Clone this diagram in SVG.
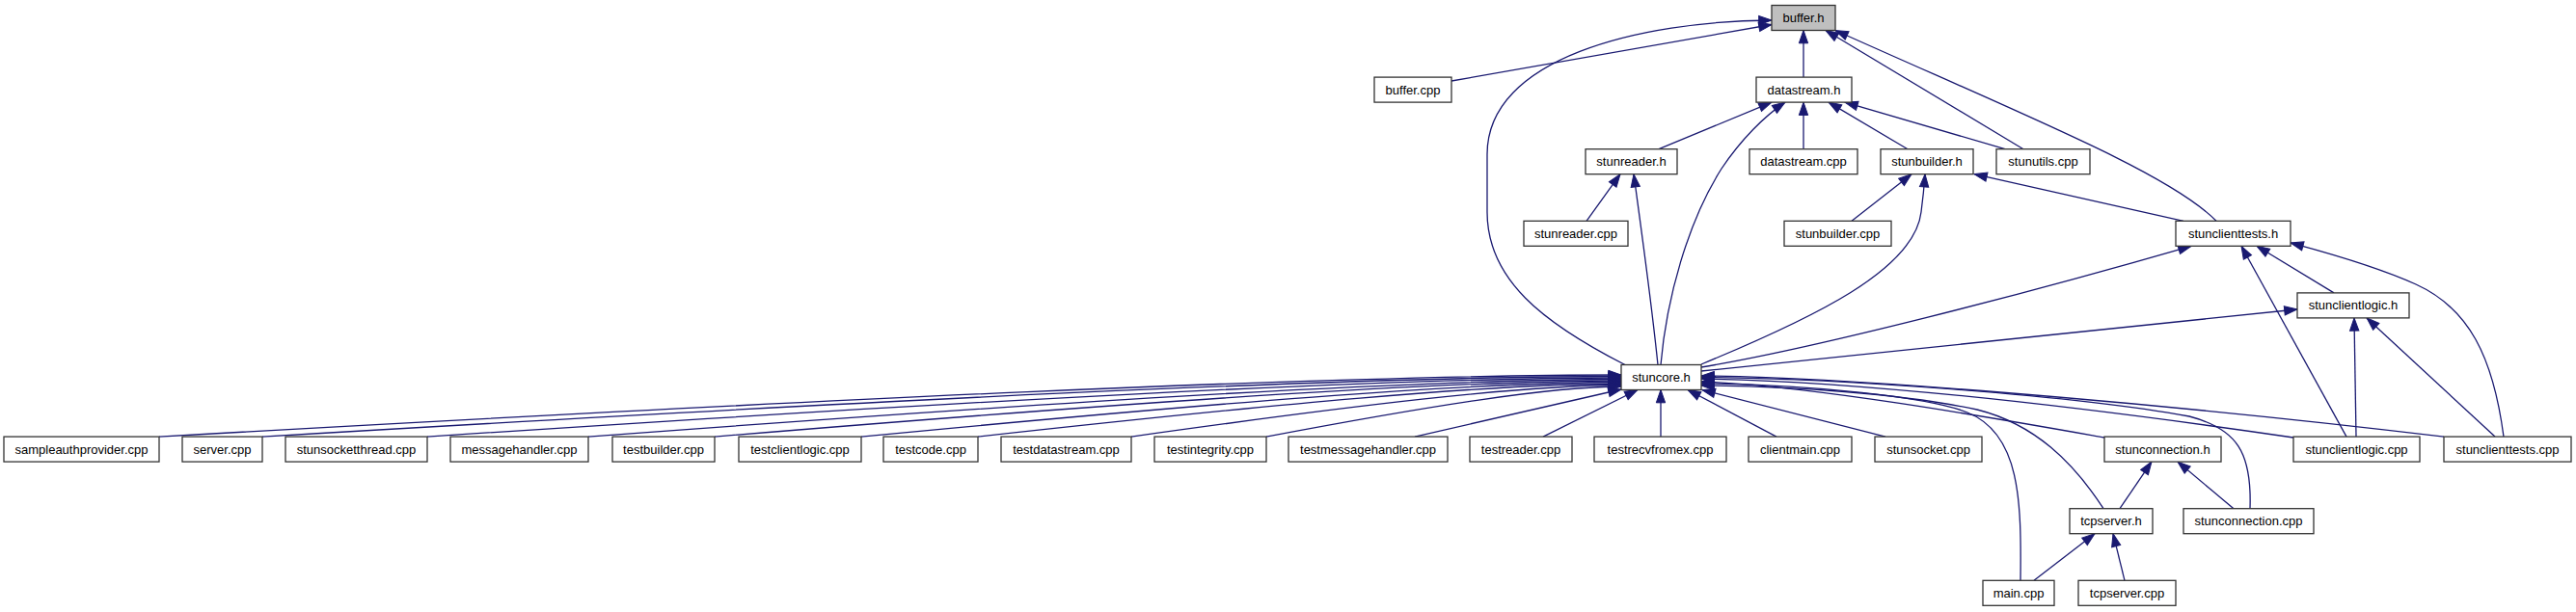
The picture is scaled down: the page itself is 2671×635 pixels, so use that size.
<svg xmlns="http://www.w3.org/2000/svg" width="2671" height="635" viewBox="0 0 2671 635">
<defs>
<style>
.node rect{fill:#ffffff;stroke:#333333;stroke-width:1.3}
.node.main rect{fill:#bfbfbf}
.node text{font-family:"Liberation Sans",Arial,sans-serif;font-size:13px;text-anchor:middle;fill:#000000}
.edges path{fill:none;stroke:#191970;stroke-width:1.3;marker-end:url(#ah)}
</style>
<marker id="ah" markerWidth="14" markerHeight="10" refX="13.3" refY="4.67" orient="auto" markerUnits="userSpaceOnUse" overflow="visible">
<path d="M0,0 L13.3,4.67 L0,9.33 z" fill="#191970" stroke="#191970" stroke-width="1"/>
</marker>
</defs>
<rect width="2671" height="635" fill="#ffffff"/>
<g id="connectors" class="edges">
<path d="M1505,84 L1837,25.5"/>
<path d="M1685,378.5 C1600,335 1542,290 1542,220 L1542,160 C1542,60 1700,22 1837,21"/>
<path d="M1870,80.1 L1870,31.5"/>
<path d="M2098,154.7 L1893,31.5"/>
<path d="M2298,229.3 C2250,180 2100,120 1903,31.5"/>
<path d="M1720,154.7 L1837,106.1"/>
<path d="M1722,378.5 C1728,310 1750,230 1785,175 C1805,145 1830,120 1851,106.1"/>
<path d="M1870,154.7 L1870,106.1"/>
<path d="M1978,154.7 L1896,106.1"/>
<path d="M2079,154.7 L1913,106.1"/>
<path d="M1645,229.3 L1680,180.7"/>
<path d="M1719,378.5 C1712,310 1702,240 1694,180.7"/>
<path d="M1920,229.3 L1982,180.7"/>
<path d="M1764,378 C1880,330 1985,280 1992,220 C1994,205 1995,195 1996,180.7"/>
<path d="M2264,229.3 L2047,180.7"/>
<path d="M1764,381 C1880,362 2100,305 2272,255.3"/>
<path d="M2420,303.9 L2340,255.3"/>
<path d="M2433,453.1 L2324,255.3"/>
<path d="M2596,453.1 C2585,370 2560,320 2505,295 C2465,277 2420,264 2375,252"/>
<path d="M1764,385 L2382,321"/>
<path d="M2443,453.1 L2441,329.9"/>
<path d="M2587,453.1 L2454,329.9"/>
<path d="M165,453.1 C847,414.6 1378,389 1681,389"/>
<path d="M272,453.1 C906,415.5 1399,390.5 1681,390.5"/>
<path d="M443,453.1 C1000,416.4 1433,392 1681,392"/>
<path d="M610,453.1 C1092,417.3 1467,393.5 1681,393.5"/>
<path d="M741,453.1 C1164,418.2 1493,395 1681,395"/>
<path d="M893,453.1 C1248,419.1 1523,396.5 1681,396.5"/>
<path d="M1014,453.1 C1314,420 1548,398 1681,398"/>
<path d="M1173,453.1 C1402,420.9 1579,399.5 1681,399.5"/>
<path d="M1313,453.1 C1479,421.8 1607,401 1681,401"/>
<path d="M1467,453.1 L1681,404"/>
<path d="M1600,453.1 L1698,404.5"/>
<path d="M1722,453.1 L1722,404.5"/>
<path d="M1842,453.1 L1750,404.5"/>
<path d="M1955,453.1 L1765,404.5"/>
<path d="M2182,454 C2080,436 1880,400 1764,396"/>
<path d="M2378,454 C2200,428 1950,396 1764,393"/>
<path d="M2534,453.1 C2300,425 1950,392 1764,390"/>
<path d="M2181,527.7 C2150,480 2110,440 2050,425 C1970,408 1860,401 1764,400"/>
<path d="M2095,602.3 C2096,520 2095,450 2040,428 C2000,412 1880,399 1764,398"/>
<path d="M2333,527.7 C2335,470 2320,445 2270,432 C2150,410 1900,392 1764,391.5"/>
<path d="M2198,527.7 L2231,479.1"/>
<path d="M2316,527.7 L2258,479.1"/>
<path d="M2109,602.3 L2172,553.7"/>
<path d="M2203,602.3 L2191,553.7"/>
</g>
<g id="n_buffer_h" class="node main"><rect x="1837" y="5.5" width="66" height="26"/><text x="1870" y="23">buffer.h</text></g>
<g id="n_buffer_cpp" class="node"><rect x="1425" y="80.1" width="80" height="26"/><text x="1465" y="97.6">buffer.cpp</text></g>
<g id="n_datastream_h" class="node"><rect x="1821" y="80.1" width="99" height="26"/><text x="1870.5" y="97.6">datastream.h</text></g>
<g id="n_stunreader_h" class="node"><rect x="1644" y="154.7" width="95" height="26"/><text x="1691.5" y="172.2">stunreader.h</text></g>
<g id="n_datastream_cpp" class="node"><rect x="1814" y="154.7" width="112" height="26"/><text x="1870" y="172.2">datastream.cpp</text></g>
<g id="n_stunbuilder_h" class="node"><rect x="1950" y="154.7" width="96" height="26"/><text x="1998" y="172.2">stunbuilder.h</text></g>
<g id="n_stunutils_cpp" class="node"><rect x="2070" y="154.7" width="97" height="26"/><text x="2118.5" y="172.2">stunutils.cpp</text></g>
<g id="n_stunreader_cpp" class="node"><rect x="1580" y="229.3" width="108" height="26"/><text x="1634" y="246.8">stunreader.cpp</text></g>
<g id="n_stunbuilder_cpp" class="node"><rect x="1850" y="229.3" width="111" height="26"/><text x="1905.5" y="246.8">stunbuilder.cpp</text></g>
<g id="n_stunclienttests_h" class="node"><rect x="2256" y="229.3" width="119" height="26"/><text x="2315.5" y="246.8">stunclienttests.h</text></g>
<g id="n_stunclientlogic_h" class="node"><rect x="2382" y="303.9" width="116" height="26"/><text x="2440" y="321.4">stunclientlogic.h</text></g>
<g id="n_stuncore_h" class="node"><rect x="1681" y="378.5" width="83" height="26"/><text x="1722.5" y="396">stuncore.h</text></g>
<g id="n_sampleauthprovider_cpp" class="node"><rect x="4" y="453.1" width="161" height="26"/><text x="84.5" y="470.6">sampleauthprovider.cpp</text></g>
<g id="n_server_cpp" class="node"><rect x="189" y="453.1" width="83" height="26"/><text x="230.5" y="470.6">server.cpp</text></g>
<g id="n_stunsocketthread_cpp" class="node"><rect x="296" y="453.1" width="147" height="26"/><text x="369.5" y="470.6">stunsocketthread.cpp</text></g>
<g id="n_messagehandler_cpp" class="node"><rect x="467" y="453.1" width="143" height="26"/><text x="538.5" y="470.6">messagehandler.cpp</text></g>
<g id="n_testbuilder_cpp" class="node"><rect x="635" y="453.1" width="106" height="26"/><text x="688" y="470.6">testbuilder.cpp</text></g>
<g id="n_testclientlogic_cpp" class="node"><rect x="766" y="453.1" width="127" height="26"/><text x="829.5" y="470.6">testclientlogic.cpp</text></g>
<g id="n_testcode_cpp" class="node"><rect x="916" y="453.1" width="98" height="26"/><text x="965" y="470.6">testcode.cpp</text></g>
<g id="n_testdatastream_cpp" class="node"><rect x="1038" y="453.1" width="135" height="26"/><text x="1105.5" y="470.6">testdatastream.cpp</text></g>
<g id="n_testintegrity_cpp" class="node"><rect x="1197" y="453.1" width="116" height="26"/><text x="1255" y="470.6">testintegrity.cpp</text></g>
<g id="n_testmessagehandler_cpp" class="node"><rect x="1336" y="453.1" width="165" height="26"/><text x="1418.5" y="470.6">testmessagehandler.cpp</text></g>
<g id="n_testreader_cpp" class="node"><rect x="1524" y="453.1" width="106" height="26"/><text x="1577" y="470.6">testreader.cpp</text></g>
<g id="n_testrecvfromex_cpp" class="node"><rect x="1653" y="453.1" width="137" height="26"/><text x="1721.5" y="470.6">testrecvfromex.cpp</text></g>
<g id="n_clientmain_cpp" class="node"><rect x="1813" y="453.1" width="107" height="26"/><text x="1866.5" y="470.6">clientmain.cpp</text></g>
<g id="n_stunsocket_cpp" class="node"><rect x="1944" y="453.1" width="111" height="26"/><text x="1999.5" y="470.6">stunsocket.cpp</text></g>
<g id="n_stunconnection_h" class="node"><rect x="2182" y="453.1" width="121" height="26"/><text x="2242.5" y="470.6">stunconnection.h</text></g>
<g id="n_stunclientlogic_cpp" class="node"><rect x="2378" y="453.1" width="131" height="26"/><text x="2443.5" y="470.6">stunclientlogic.cpp</text></g>
<g id="n_stunclienttests_cpp" class="node"><rect x="2534" y="453.1" width="132" height="26"/><text x="2600" y="470.6">stunclienttests.cpp</text></g>
<g id="n_tcpserver_h" class="node"><rect x="2146" y="527.7" width="86" height="26"/><text x="2189" y="545.2">tcpserver.h</text></g>
<g id="n_stunconnection_cpp" class="node"><rect x="2264" y="527.7" width="135" height="26"/><text x="2331.5" y="545.2">stunconnection.cpp</text></g>
<g id="n_main_cpp" class="node"><rect x="2056" y="602.3" width="74" height="26"/><text x="2093" y="619.8">main.cpp</text></g>
<g id="n_tcpserver_cpp" class="node"><rect x="2155" y="602.3" width="101" height="26"/><text x="2205.5" y="619.8">tcpserver.cpp</text></g>
</svg>
